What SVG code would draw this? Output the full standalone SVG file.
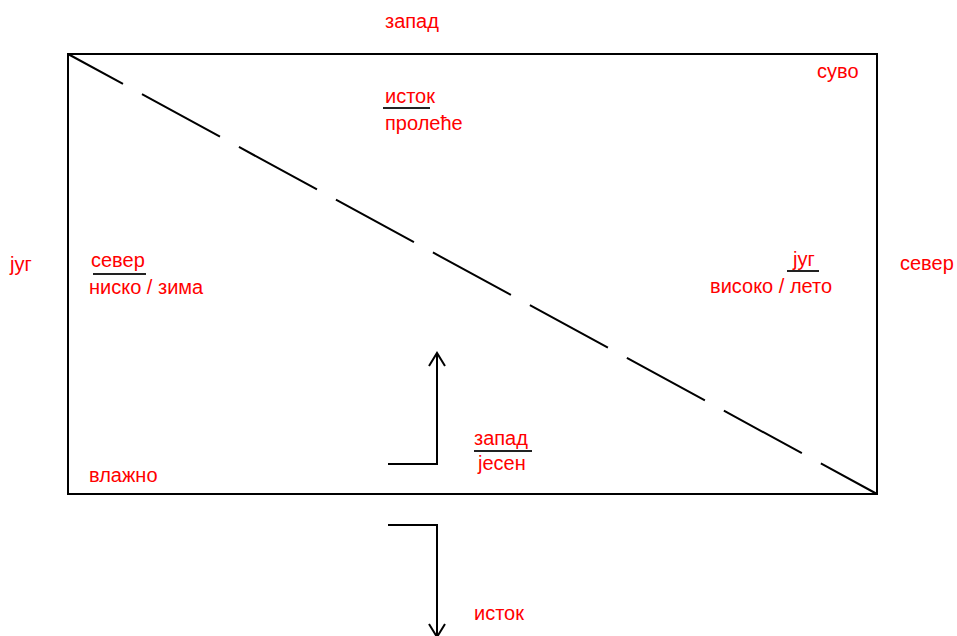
<svg xmlns="http://www.w3.org/2000/svg" width="957" height="636" viewBox="0 0 957 636">
<style>
.t{font-family:"Liberation Sans",Arial,sans-serif;font-size:20px;fill:#ff0000}
.ln{stroke:#000;stroke-width:2;fill:none}
.ul{stroke:#222;stroke-width:2}
</style>
<defs>
<marker id="ah" markerWidth="20" markerHeight="20" refX="14" refY="9" orient="auto" markerUnits="userSpaceOnUse">
<path d="M1,1 L14,9 L1,17" fill="none" stroke="#000" stroke-width="2"/>
</marker>
</defs>
<rect width="957" height="636" fill="#fff"/>
<g id="frame">
<rect x="68" y="54" width="809" height="440" class="ln"/>
</g>
<g id="connectors">
<line x1="68" y1="54" x2="877" y2="494" class="ln" stroke-dasharray="88.8 21.6" stroke-dashoffset="26.2"/>
<path d="M388,464 H437 V353" class="ln" marker-end="url(#ah)"/>
<path d="M388,525 H437 V637" class="ln" marker-end="url(#ah)"/>
</g>
<g id="label-zapad-top"><text class="t" x="385" y="28">запад</text></g>
<g id="label-suvo"><text class="t" x="817" y="78">суво</text></g>
<g id="label-istok-prolece">
<text class="t" x="385" y="103">исток</text>
<line x1="383" y1="108" x2="430" y2="108" class="ul"/>
<text class="t" x="385" y="130">пролеће</text>
</g>
<g id="label-jug-left"><text class="t" x="10" y="271">југ</text></g>
<g id="label-sever-nisko">
<text class="t" x="91" y="267">север</text>
<line x1="93" y1="274" x2="146" y2="274" class="ul"/>
<text class="t" x="89" y="294">ниско / зима</text>
</g>
<g id="label-jug-visoko">
<text class="t" x="793" y="266">југ</text>
<line x1="787" y1="271" x2="819" y2="271" class="ul"/>
<text class="t" x="710" y="293">високо / лето</text>
</g>
<g id="label-sever-right"><text class="t" x="900" y="270">север</text></g>
<g id="label-zapad-jesen">
<text class="t" x="474" y="445">запад</text>
<line x1="474" y1="451" x2="532" y2="451" class="ul"/>
<text class="t" x="478" y="470">јесен</text>
</g>
<g id="label-vlazno"><text class="t" x="89" y="482">влажно</text></g>
<g id="label-istok-bottom"><text class="t" x="474" y="620">исток</text></g>
</svg>
